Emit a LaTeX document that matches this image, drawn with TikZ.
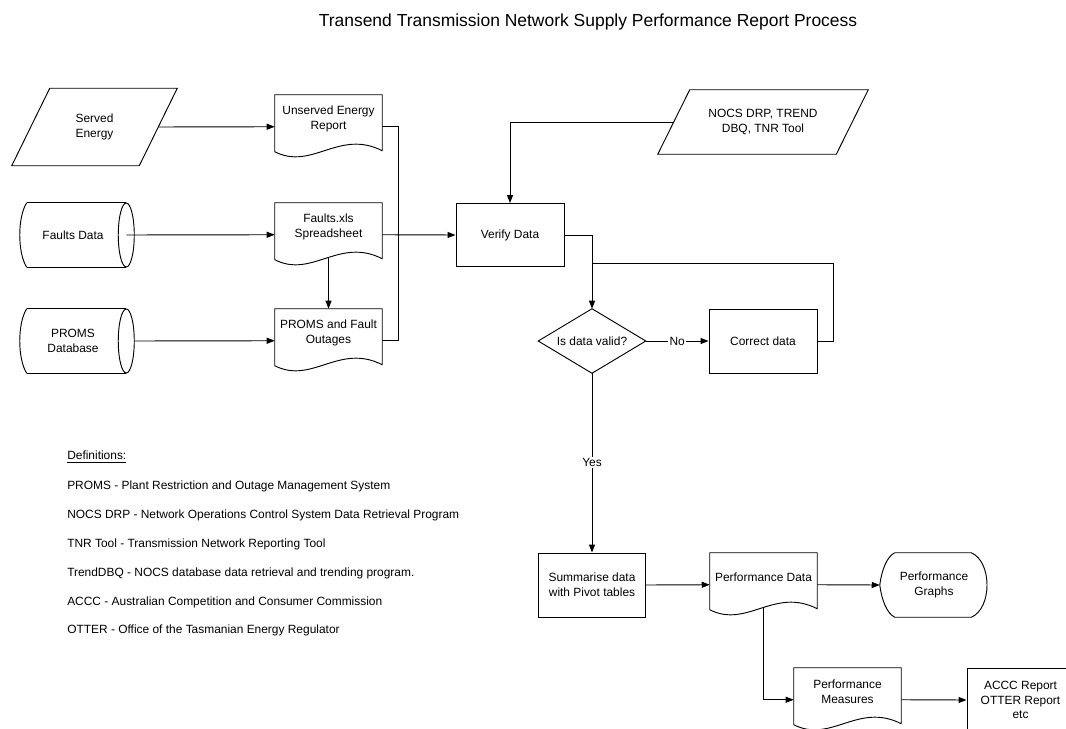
\documentclass[tikz,border=0pt]{standalone}
\usepackage{fontspec}
\setmainfont{Liberation Sans}
\usetikzlibrary{arrows.meta,calc}
\tikzset{
  base/.style={font=\fontsize{8.95}{11}\selectfont, align=center, inner sep=0pt},
  line/.style={line width=0.7pt},
  outline/.style={line width=0.7pt, line join=miter},
  arr/.style={line width=0.7pt, -{Triangle[length=6pt,width=4.5pt]}},
  procbox/.style={base, draw, line width=0.7pt, minimum width=80.25pt, minimum height=48pt},
  doctxt/.style={base, minimum width=80.25pt, minimum height=36pt},
  lab/.style={base, fill=white, inner sep=1pt},
  deftxt/.style={base, anchor=west, align=left},
}
\newcommand\docoutline[1]{%
  \draw[outline] (#1.north west) -- (#1.north east) -- ($(#1.north east)+(0,56)$)
    .. controls ($(#1.north west)+(64.2,34)$) and ($(#1.north west)+(37.45,76)$) ..
    ($(#1.north west)+(0,57)$) -- cycle;
  \coordinate (#1-w) at ($(#1.north west)+(0,32)$);
  \coordinate (#1-e) at ($(#1.north east)+(0,32)$);
  \coordinate (#1-s) at ($(#1.north)+(0,55)$);
}
\newcommand\paraoutline[2]{%
  \draw[outline] ($(#1.north west)+(#2,0)$) -- ($(#1.north east)+(#2,0)$)
    -- ($(#1.south east)+(-#2,0)$) -- ($(#1.south west)+(-#2,0)$) -- cycle;
}
\newcommand\storeoutline[1]{%
  \draw[outline] ($(#1.north west)+(7,0)$) -- (#1.north east);
  \draw[outline] ($(#1.south west)+(7,0)$) -- (#1.south east);
  \draw[outline] ($(#1.north west)+(7,0)$) .. controls ($(#1.west)+(-2.3,-18)$) and ($(#1.west)+(-2.3,18)$) .. ($(#1.south west)+(7,0)$);
  \draw[outline] (#1.east) ellipse [x radius=6pt, y radius=24pt];
}
\newcommand\displayoutline[1]{%
  \draw[outline] (#1.west) .. controls ($(#1.west)+(2,-15)$) and ($(#1.north west)+(7,4)$) .. ($(#1.north west)+(15,0)$)
    -- ($(#1.north east)+(-17,0)$) .. controls ($(#1.north east)+(4,9)$) and ($(#1.south east)+(4,-9)$) .. ($(#1.south east)+(-17,0)$)
    -- ($(#1.south west)+(15,0)$) .. controls ($(#1.south west)+(7,-4)$) and ($(#1.west)+(2,15)$) .. (#1.west) -- cycle;
}
\begin{document}
\begin{tikzpicture}[x=0.75pt, y=-0.75pt]
\useasboundingbox (0,0) rectangle (1066,728);

% title
\node[font=\fontsize{13.1}{15}\selectfont, inner sep=0pt] (title) at (588,22) {Transend Transmission Network Supply Performance Report Process};

% inputs
\node[base, minimum width=95.25pt, minimum height=57.75pt] (se) at (94.5,127) {Served\\Energy};
\paraoutline{se}{19}
\node[base, minimum width=79.5pt, minimum height=48pt] (fd) at (73,235) {Faults Data};
\storeoutline{fd}
\node[base, minimum width=79.5pt, minimum height=48pt] (pdb) at (73,341) {PROMS\\Database};
\storeoutline{pdb}

% documents
\node[doctxt] (ue) at (328.5,119) {Unserved Energy\\Report};
\docoutline{ue}
\node[doctxt] (fx) at (328.5,227) {Faults.xls\\Spreadsheet};
\docoutline{fx}
\node[doctxt] (pf) at (328.5,333) {PROMS and Fault\\Outages};
\docoutline{pf}

% NOCS
\node[base, minimum width=133.5pt, minimum height=48pt] (nc) at (763,122) {NOCS DRP, TREND\\DBQ, TNR Tool};
\paraoutline{nc}{16}

% process
\node[procbox, minimum width=81pt, minimum height=47.25pt] (vd) at (510,235) {Verify Data};
\node[base, minimum width=80.25pt, minimum height=48pt] (dv) at (592,341) {Is data valid?};
\draw[outline] (dv.north) -- (dv.east) -- (dv.south) -- (dv.west) -- cycle;
\node[procbox, minimum width=81pt] (cd) at (763,341) {Correct data};
\node[procbox] (sb) at (592,585) {Summarise data\\with Pivot tables};
\node[doctxt] (pd) at (763.5,577) {Performance Data};
\docoutline{pd}
\node[base, minimum width=81pt, minimum height=48pt] (pg) at (934,585) {Performance\\Graphs};
\displayoutline{pg}
\node[doctxt] (pm) at (847.5,692) {Performance\\Measures};
\docoutline{pm}
\node[procbox] (ac) at (1020.5,700) {ACCC Report\\OTTER Report\\etc};

% connectors
\coordinate (bus) at (398,235);
\coordinate (jn) at (592,263);
\coordinate (pdbout) at ($(pdb.east)+(8,0)$);
\draw[arr] (se.east) -- (ue-w);
\draw[arr] (fd.east) -- (fx-w);
\draw[arr] (pdbout) -- (pf-w);
\draw[arr] (fx-s) -- (pf.north);
\draw[line] (ue-e) -| (bus);
\draw[line] (pf-e) -| (bus);
\draw[arr] (fx-e) -- (vd.west);
\draw[arr] (nc.west) -| (vd.north);
\draw[arr] (vd.east) -| (dv.north);
\draw[arr] (dv.east) -- node[lab] {No} (cd.west);
\draw[line] (cd.east) -- ++(16,0) |- (jn);
\draw[arr] (dv.south) -- node[lab] {Yes} (sb.north);
\draw[arr] (sb.east) -- (pd-w);
\draw[arr] (pd-e) -- (pg.west);
\draw[arr] (pd-s) |- (pm-w);
\draw[arr] (pm-e) -- (ac.west);

% definitions
\node[deftxt] (d0) at (67,457) {\underline{Definitions:}};
\node[deftxt] (d1) at (67,486) {PROMS - Plant Restriction and Outage Management System};
\node[deftxt] (d2) at (67,515) {NOCS DRP - Network Operations Control System Data Retrieval Program};
\node[deftxt] (d3) at (67,544) {TNR Tool - Transmission Network Reporting Tool};
\node[deftxt] (d4) at (67,573) {TrendDBQ - NOCS database data retrieval and trending program.};
\node[deftxt] (d5) at (67,602) {ACCC - Australian Competition and Consumer Commission};
\node[deftxt] (d6) at (67,630) {OTTER - Office of the Tasmanian Energy Regulator};
\end{tikzpicture}
\end{document}
